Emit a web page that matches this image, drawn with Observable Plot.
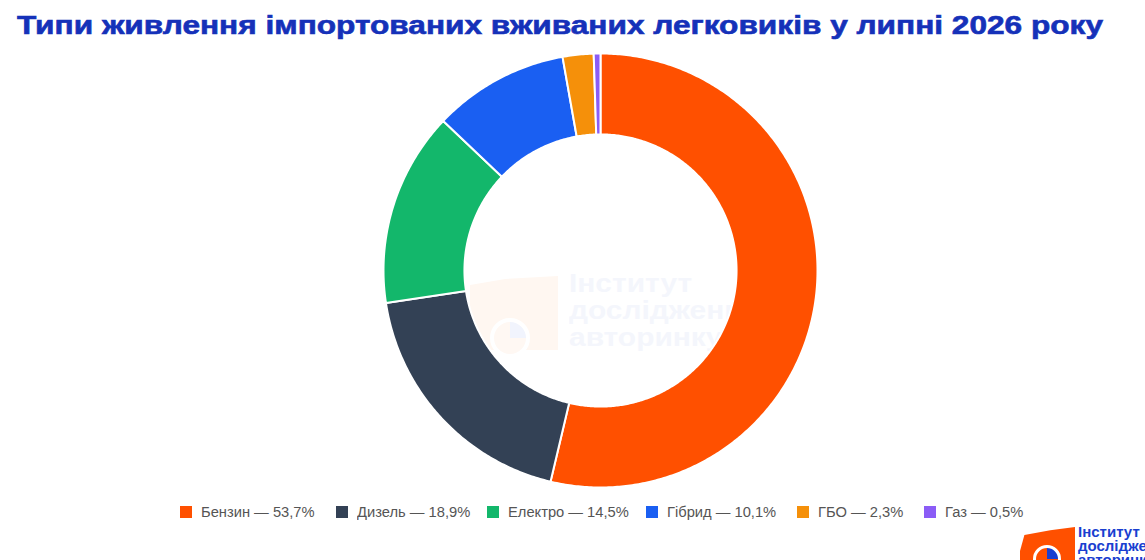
<!DOCTYPE html>
<html>
<head>
<meta charset="utf-8">
<script src="https://cdn.jsdelivr.net/npm/d3@7"></script>
<script src="https://cdn.jsdelivr.net/npm/@observablehq/plot@0.6"></script>
<style>
  html, body { margin: 0; padding: 0; background: #fff; }
  body { width: 1145px; height: 560px; position: relative; overflow: hidden; font-family: "Liberation Sans", Arial, sans-serif; }
  #title { position: absolute; left: 17px; top: 10px; font-size: 25px; line-height: 30px; font-weight: bold; color: #1531b9; -webkit-text-stroke: 0.6px #1531b9; white-space: nowrap; transform-origin: 0 0; }
  #wm { position: absolute; left: 470px; top: 270px; width: 300px; height: 100px; }
  #wm .flag { position: absolute; left: 0; top: 6px; width: 88px; height: 74px; background: #fff7f1; clip-path: polygon(0 12%, 40% 4%, 100% 0, 100% 100%, 0 100%); }
  #wm .txt { position: absolute; left: 99px; top: 0; font-family: "Liberation Sans", sans-serif; font-weight: bold; font-size: 26px; line-height: 27px; color: #f4f6fc; transform: scaleX(1.15); transform-origin: 0 0; }
  #wm .circ { position: absolute; left: 20px; top: 48px; width: 40px; height: 40px; border-radius: 50%; border: 4px solid #fff; box-sizing: border-box; background: conic-gradient(#f1f4fd 0 25%, #fff8f3 25% 100%); }
  #chart { position: absolute; left: 0; top: 45px; }
  #legend { position: absolute; left: 0; top: 502px; width: 1145px; height: 20px; font-size: 14px; color: #555; }
  #legend .item { position: absolute; top: 0; white-space: nowrap; line-height: 18px; height: 18px; }
  #legend .sw { position: absolute; left: 0; top: 4px; width: 12px; height: 12px; }
  #legend .lab { position: absolute; left: 21px; top: 1px; transform-origin: 0 0; white-space: nowrap; }
  #logo { position: absolute; left: 1020px; top: 525px; width: 125px; height: 35px; }
  #logo .flag { position: absolute; left: 0; top: 2px; width: 55px; height: 40px; background: #ff5000; clip-path: polygon(8% 20%, 0 60%, 0 100%, 100% 100%, 100% 0, 55% 8%); }
  #logo .circ { position: absolute; left: 13px; top: 20px; width: 28px; height: 28px; border-radius: 50%; border: 3px solid #fff; box-sizing: border-box; background: conic-gradient(#1a3fd0 0 25%, #ff5000 25% 100%); }
  #logo .txt { position: absolute; left: 58px; top: 0px; font-family: "Liberation Sans", sans-serif; font-weight: bold; font-size: 15px; line-height: 14px; color: #1a3fd0; white-space: nowrap; }
</style>
</head>
<body>
<div id="wm"><div class="flag"></div><div class="circ"></div><div class="txt">Інститут<br>досліджень<br>авторинку</div></div>
<div id="title">Типи живлення імпортованих вживаних легковиків у липні 2026 року</div>
<div id="chart"></div>
<div id="legend"></div>
<div id="logo"><div class="flag"></div><div class="circ"></div><div class="txt">Інститут<br>досліджень<br>авторинку</div></div>
<script>
const types = ["Бензин", "Дизель", "Електро", "Гібрид", "ГБО", "Газ"];
const shares = [53.7, 18.9, 14.5, 10.1, 2.3, 0.5];
const colors = ["#ff5000", "#334155", "#13b76b", "#1a5ff2", "#f5900a", "#8b5cf6"];
const legendLabels = ["Бензин — 53,7%", "Дизель — 18,9%", "Електро — 14,5%", "Гібрид — 10,1%", "ГБО — 2,3%", "Газ — 0,5%"];

const innerRatio = 0.627;
const rows = types.map((t, i) => ({type: t, value: shares[i]}));
const arcs = d3.pie().value(d => d.value).sort(null)(rows);

// ring-sector polygons in unit space, derived from the pie angles
const pts = [];
for (const a of arcs) {
  const n = Math.max(2, Math.ceil((a.endAngle - a.startAngle) / 0.01));
  for (let k = 0; k <= n; k++) {
    const t = a.startAngle + (a.endAngle - a.startAngle) * k / n;
    pts.push({type: a.data.type, x: Math.sin(t), y: Math.cos(t)});
  }
  for (let k = n; k >= 0; k--) {
    const t = a.startAngle + (a.endAngle - a.startAngle) * k / n;
    pts.push({type: a.data.type, x: innerRatio * Math.sin(t), y: innerRatio * Math.cos(t)});
  }
}

const chart = Plot.plot({
  width: 1145,
  height: 450,
  marginLeft: 383,
  marginRight: 328,
  marginTop: 8,
  marginBottom: 8,
  x: {domain: [-1, 1], axis: null},
  y: {domain: [-1, 1], axis: null},
  color: {domain: types, range: colors},
  style: {background: "transparent", overflow: "visible"},
  marks: [
    Plot.line(pts, {x: "x", y: "y", z: "type", fill: "type", stroke: "white", strokeWidth: 2, curve: "linear-closed", strokeLinejoin: "round"})
  ]
});
document.getElementById("chart").appendChild(chart);

// title stretched horizontally to the reference's width
const title = document.getElementById("title");
const tw = title.getBoundingClientRect().width;
title.style.transform = `scaleX(${1086 / tw})`;

const legendX = [180, 336, 487, 646, 797, 924];
const lg = document.getElementById("legend");
types.forEach((t, i) => {
  const it = document.createElement("div");
  it.className = "item";
  it.style.left = legendX[i] + "px";
  it.innerHTML = `<span class="sw" style="background:${chart.scale("color").apply(t)}"></span><span class="lab">${legendLabels[i]}</span>`;
  lg.appendChild(it);
  it.querySelector(".lab").style.transform = "scaleX(1.05)";
});
</script>
</body>
</html>
